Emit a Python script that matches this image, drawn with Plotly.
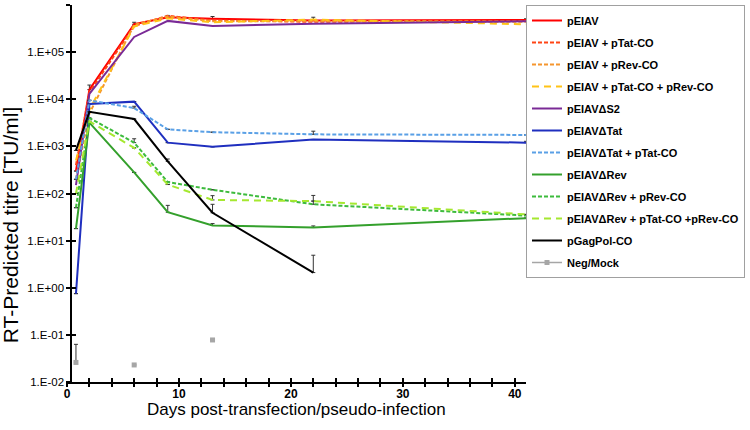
import plotly.graph_objects as go

# ---------------- data ----------------
days = [0.8, 2, 6, 9, 13, 22, 41]

series_names = [
    "pEIAV", "pEIAV + pTat-CO", "pEIAV + pRev-CO", "pEIAV + pTat-CO + pRev-CO",
    "pEIAV\u0394S2", "pEIAV\u0394Tat", "pEIAV\u0394Tat + pTat-CO", "pEIAV\u0394Rev",
    "pEIAV\u0394Rev + pRev-CO", "pEIAV\u0394Rev + pTat-CO +pRev-CO", "pGagPol-CO", "Neg/Mock",
]

pEIAV       = [300, 16000, 390000, 550000, 510000, 470000, 480000]
pEIAV_pTat  = [400, 14000, 360000, 590000, 470000, 440000, 460000]
pEIAV_pRev  = [200, 5000, 380000, 570000, 450000, 460000, 440000]
pEIAV_both  = [500, 6000, 350000, 520000, 430000, 490000, 390000]
dS2         = [150, 13000, 210000, 460000, 360000, 400000, 450000]
dTat        = [0.75, 7900, 8900, 1200, 980, 1400, 1200]
dTat_pTat   = [200, 9500, 6500, 2300, 2000, 1800, 1750]
dRev        = [18, 3200, 280, 40, 21, 19, 30]
dRev_pRev   = [50, 4000, 1200, 175, 120, 59, 34]
dRev_both   = [100, 3400, 930, 155, 73, 69, 36]
gagpol      = [820, 5400, 3800, 480, 39, 2.1, None]
neg_mock    = [0.026, None, 0.023, None, 0.078, None, None]

# upper error bars
err_pEIAV     = [0, 4000, 40000, 50000, 60000, 80000, 30000]
err_dTat      = [0, 0, 0, 0, 0, 0, 80]
err_dTat_pTat = [0, 0, 600, 0, 0, 300, 0]
err_dRev      = [0, 0, 0, 16, 2, 1.5, 0]
err_dRev_pRev = [0, 0, 250, 0, 0, 32, 0]
err_dRev_both = [0, 0, 0, 0, 17, 0, 0]
err_gagpol    = [0, 0, 0, 60, 20, 2.8, 0]
err_neg       = [0.037, 0, 0, 0, 0, 0, 0]

y_tickvals = [1e-2, 1e-1, 1e0, 1e1, 1e2, 1e3, 1e4, 1e5, 1e6]
y_ticktext = ["1.E-02", "1.E-01", "1.E+00", "1.E+01", "1.E+02", "1.E+03", "1.E+04", "1.E+05", "1.E+06"]
x_tickvals = list(range(0, 41, 2))
x_ticktext = [str(v) if v % 10 == 0 else "" for v in x_tickvals]

# ---------------- styles ----------------
styles = [
    dict(color="#FF0000", dash="solid"),
    dict(color="#FF4515", dash="4px,2px"),
    dict(color="#F5962E", dash="4px,2px"),
    dict(color="#FFC317", dash="7px,5px"),
    dict(color="#7A2A96", dash="solid"),
    dict(color="#1F2FBF", dash="solid"),
    dict(color="#5AA0E6", dash="4px,2px"),
    dict(color="#34A02C", dash="solid"),
    dict(color="#3DBB3D", dash="4px,2px"),
    dict(color="#A5E830", dash="7px,5px"),
    dict(color="#000000", dash="solid"),
    dict(color="#A6A6A6", dash="solid"),
]
values = [pEIAV, pEIAV_pTat, pEIAV_pRev, pEIAV_both, dS2, dTat, dTat_pTat,
          dRev, dRev_pRev, dRev_both, gagpol, neg_mock]
errors = [err_pEIAV, None, None, None, None, err_dTat, err_dTat_pTat,
          err_dRev, err_dRev_pRev, err_dRev_both, err_gagpol, err_neg]

fig = go.Figure()
for i, (name, vals, st, err) in enumerate(zip(series_names, values, styles, errors)):
    kw = {}
    if err is not None:
        kw["error_y"] = dict(type="data", symmetric=False, array=err,
                             arrayminus=[0] * len(err), color="#333333",
                             thickness=1, width=2)
    is_neg = name == "Neg/Mock"
    fig.add_trace(go.Scatter(
        x=days, y=vals, name=name,
        mode="lines+markers" if is_neg else "lines",
        line=dict(color=st["color"], dash=st["dash"], width=1.5 if is_neg else 2),
        marker=dict(symbol="square", size=5, color=st["color"]),
        connectgaps=False, legendgroup=f"g{i}", **kw))

# invisible trace to carry overlay axes (for ticks crossing the axis lines)
fig.add_trace(go.Scatter(x=[20], y=[1], xaxis="x2", yaxis="y2", mode="markers",
                         marker=dict(opacity=0), showlegend=False, hoverinfo="skip"))

font_family = "Liberation Sans, Arial, sans-serif"
xpos = 0.0095

fig.update_layout(
    width=750, height=430,
    margin=dict(l=67, r=222, t=5, b=48),
    paper_bgcolor="white", plot_bgcolor="white",
    font=dict(family=font_family, color="black"),
    showlegend=True,
    legend=dict(x=1.0, y=1.0, xanchor="left", yanchor="top",
                bordercolor="#A0A0A0", borderwidth=1, bgcolor="white",
                font=dict(size=11, weight="bold", family=font_family, color="black"),
                traceorder="grouped", tracegroupgap=3, itemwidth=30),
    xaxis=dict(range=[0, 41], tickvals=x_tickvals, ticktext=x_ticktext,
               ticks="inside", ticklen=4, tickwidth=1.5, tickcolor="black",
               showline=True, linecolor="black", linewidth=2, showgrid=False,
               zeroline=False, tickfont=dict(size=12, weight="bold", family=font_family),
               anchor="y", automargin=False),
    yaxis=dict(type="log", range=[-2, 6], tickvals=y_tickvals, ticktext=y_ticktext,
               ticks="outside", ticklen=4, tickwidth=1.5, tickcolor="black",
               showline=True, linecolor="black", linewidth=2, showgrid=False,
               zeroline=False, tickfont=dict(size=11.5, family=font_family),
               anchor="free", position=xpos, automargin=False),
    xaxis2=dict(range=[0, 41], tickvals=x_tickvals, overlaying="x", anchor="y",
                ticks="outside", ticklen=4, tickwidth=1.5, tickcolor="black",
                showticklabels=False, showline=False, showgrid=False, zeroline=False,
                automargin=False),
    yaxis2=dict(type="log", range=[-2, 6], tickvals=y_tickvals, overlaying="y",
                anchor="free", position=xpos,
                ticks="inside", ticklen=4, tickwidth=1.5, tickcolor="black",
                showticklabels=False, showline=False, showgrid=False, zeroline=False,
                automargin=False),
    annotations=[
        dict(text="Days post-transfection/pseudo-infection", xref="paper", yref="paper",
             x=0.5, y=-0.074, xanchor="center", yanchor="middle", showarrow=False,
             font=dict(size=17, family=font_family, color="black")),
        dict(text="RT-Predicted titre [TU/ml]", xref="paper", yref="paper",
             x=-0.124, y=0.416, xanchor="center", yanchor="middle", showarrow=False,
             textangle=-90, font=dict(size=21, family=font_family, color="black")),
    ],
)

fig.write_html("out.html", config={"displayModeBar": False},
               post_script="document.body.style.margin='0px';")
